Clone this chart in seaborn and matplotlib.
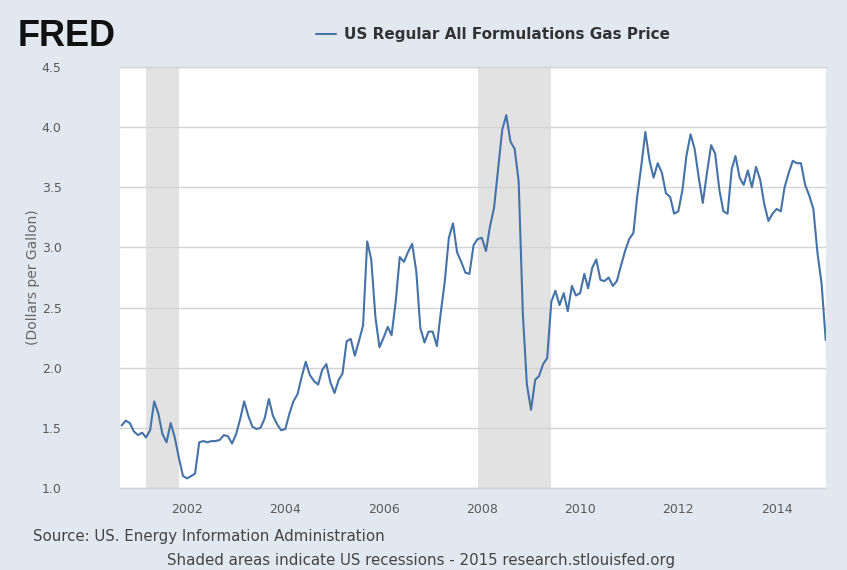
import pandas as pd
import numpy as np
import matplotlib
matplotlib.use("Agg")
import matplotlib.pyplot as plt
import seaborn as sns

# monthly gas price (dollars per gallon), first of each month
prices_2000 = [1.52, 1.56, 1.54, 1.47]  # Sep-Dec
prices_2001 = [1.44, 1.46, 1.42, 1.48, 1.72, 1.62, 1.45, 1.38, 1.54, 1.42, 1.25, 1.10]
prices_2002 = [1.08, 1.10, 1.12, 1.38, 1.39, 1.38, 1.39, 1.39, 1.40, 1.44, 1.43, 1.37]
prices_2003 = [1.45, 1.58, 1.72, 1.60, 1.51, 1.49, 1.50, 1.58, 1.74, 1.60, 1.53, 1.48]
prices_2004 = [1.49, 1.62, 1.72, 1.78, 1.92, 2.05, 1.94, 1.89, 1.86, 1.98, 2.03, 1.88]
prices_2005 = [1.79, 1.90, 1.95, 2.22, 2.24, 2.10, 2.22, 2.35, 3.05, 2.90, 2.42, 2.17]
prices_2006 = [2.25, 2.34, 2.27, 2.55, 2.92, 2.88, 2.96, 3.03, 2.80, 2.33, 2.21, 2.30]
prices_2007 = [2.30, 2.18, 2.45, 2.72, 3.08, 3.20, 2.96, 2.88, 2.79, 2.78, 3.02, 3.07]
prices_2008 = [3.08, 2.97, 3.17, 3.33, 3.65, 3.98, 4.10, 3.88, 3.82, 3.55, 2.45, 1.86]
prices_2009 = [1.65, 1.90, 1.93, 2.03, 2.08, 2.55, 2.64, 2.52, 2.62, 2.47, 2.68, 2.60]
prices_2010 = [2.62, 2.78, 2.66, 2.83, 2.90, 2.73, 2.72, 2.75, 2.68, 2.72, 2.85, 2.97]
prices_2011 = [3.07, 3.12, 3.42, 3.68, 3.96, 3.72, 3.58, 3.70, 3.62, 3.45, 3.42, 3.28]
prices_2012 = [3.30, 3.48, 3.76, 3.94, 3.82, 3.58, 3.37, 3.62, 3.85, 3.78, 3.48, 3.30]
prices_2013 = [3.28, 3.65, 3.76, 3.58, 3.52, 3.64, 3.50, 3.67, 3.56, 3.36, 3.22, 3.28]
prices_2014 = [3.32, 3.30, 3.50, 3.62, 3.72, 3.70, 3.70, 3.52, 3.43, 3.32, 2.95, 2.70]
prices_2015 = [2.23]  # Jan

recession_starts = ["2001-03-01", "2007-12-01"]
recession_ends = ["2001-11-01", "2009-06-01"]

y_ticks = [1.0, 1.5, 2.0, 2.5, 3.0, 3.5, 4.0, 4.5]
x_tick_years = [2002, 2004, 2006, 2008, 2010, 2012, 2014]

prices = (prices_2000 + prices_2001 + prices_2002 + prices_2003 + prices_2004 +
          prices_2005 + prices_2006 + prices_2007 + prices_2008 + prices_2009 +
          prices_2010 + prices_2011 + prices_2012 + prices_2013 + prices_2014 +
          prices_2015)
dates = pd.date_range("2000-09-01", periods=len(prices), freq="MS")
df = pd.DataFrame({"date": dates, "price": prices})

# ---------------------------------------------------------------------------------
bg = "#E1E8EF"
grid_col = "#D3D3D3"
txt_col = "#5A5A5A"
sns.set_style("white")
plt.rcParams["font.family"] = ["DejaVu Sans"]

fig = plt.figure(figsize=(8.47, 5.70), dpi=100, facecolor=bg)
ax = fig.add_axes([120/847, 1-488/570, 706/847, 421/570])
ax.set_facecolor("white")

for s, e in zip(recession_starts, recession_ends):
    ax.axvspan(pd.Timestamp(s), pd.Timestamp(e), color="#E2E2E2", lw=0, zorder=0)

sns.lineplot(data=df, x="date", y="price", ax=ax, color="#4572A7", lw=1.5,
             label="US Regular All Formulations Gas Price", legend=False, zorder=3)

ax.set_ylim(1.0, 4.5)
ax.set_yticks(y_ticks)
ax.set_yticklabels([f"{v:.1f}" for v in y_ticks])
ax.set_xlim(pd.Timestamp("2000-08-20"), pd.Timestamp("2015-01-03"))
ax.set_xticks([pd.Timestamp(f"{y}-01-01") for y in x_tick_years])
ax.set_xticklabels([str(y) for y in x_tick_years])
ax.yaxis.grid(True, color=grid_col, lw=1)
ax.xaxis.grid(False)
for side in ["left", "right"]:
    ax.spines[side].set_visible(False)
for side in ["top", "bottom"]:
    ax.spines[side].set_color(grid_col)
    ax.spines[side].set_linewidth(1)
ax.tick_params(axis="both", length=0, labelsize=9, colors=txt_col)
ax.tick_params(axis="y", pad=42)
ax.tick_params(axis="x", pad=11)
ax.set_xlabel("")
ax.set_ylabel("(Dollars per Gallon)", fontsize=10, color="#666666", labelpad=1)

handles, labels = ax.get_legend_handles_labels()
leg = fig.legend(handles, labels, loc="center", bbox_to_anchor=(493/847, 1-35/570),
                 frameon=False, handlelength=1.3, handletextpad=0.5,
                 prop={"weight": "bold", "size": 11})
for t in leg.get_texts():
    t.set_color("#333333")

fig.text(18/847, 1-36/570, "FRED", fontsize=26, fontweight="bold",
         family="Liberation Sans", color="#111111", va="center", ha="left")
fig.text(33/847, 1-537/570, "Source: US. Energy Information Administration",
         fontsize=10.8, color="#444444", va="center", ha="left")
fig.text(421/847, 1-561/570,
         "Shaded areas indicate US recessions - 2015 research.stlouisfed.org",
         fontsize=10.8, color="#444444", va="center", ha="center")

fig.savefig("out.png", dpi=100, facecolor=bg)
